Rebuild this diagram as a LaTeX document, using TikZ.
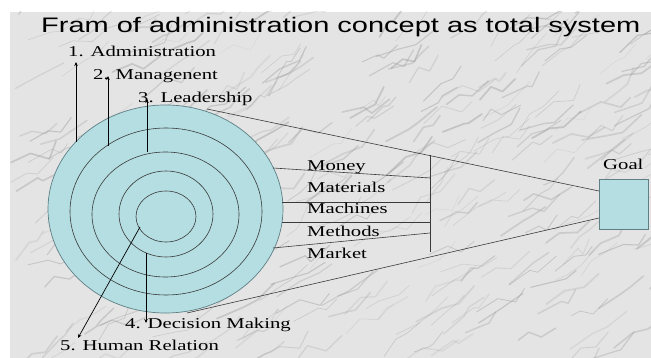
\documentclass[tikz,border=0pt]{standalone}
\usepackage{graphicx}
\usepackage{fontspec}
\setmainfont{Liberation Serif}
\newfontfamily\titlefont{Liberation Sans}
\usetikzlibrary{shapes.geometric,arrows.meta}
\definecolor{ringfill}{HTML}{B4DEE2}
\definecolor{ringedge}{HTML}{5E7F84}
\definecolor{marble}{HTML}{E4E4E4}
\definecolor{veincol}{HTML}{9A9A9A}
\definecolor{linkcol}{HTML}{3A3A3A}
% text on this slide is set wide
\newcommand{\widetext}[1]{\scalebox{1.38}[1]{#1}}
\tikzset{
  ring/.style={ellipse, draw=linkcol, line width=0.6pt, fill=ringfill, inner sep=0pt},
  outerring/.style={ellipse, draw=ringedge, line width=0.7pt, fill=ringfill, inner sep=0pt},
  link/.style={draw=linkcol, line width=0.6pt},
  pointer/.style={draw=black, line width=0.7pt, -{Stealth[length=4pt,width=3.5pt]}},
  lbl/.style={anchor=base west, inner sep=0pt, font=\fontsize{15}{17}\selectfont},
  goalbox/.style={draw=ringedge, line width=1pt, fill=ringfill},
  vein/.style={draw=veincol, line cap=round, line join=round},
}
\begin{document}
\begin{tikzpicture}[x=1pt,y=-1pt]
\useasboundingbox (0,0) rectangle (651,358);
\fill[white] (0,0) rectangle (651,358);
% marble slab
\fill[marble] (10,12) rectangle (651,358);
\begin{scope}
\clip (10,12) rectangle (651,358);
\pgfmathsetseed{42}
\foreach \i in {1,...,320}{
  \pgfmathsetmacro\xa{10+rnd*660}
  \pgfmathsetmacro\ya{12+rnd*360}
  \pgfmathsetmacro\dxa{8+rnd*18}
  \pgfmathsetmacro\dya{-4-rnd*14}
  \pgfmathsetmacro\dxb{4+rnd*16}
  \pgfmathsetmacro\dyb{-10+rnd*16}
  \pgfmathsetmacro\dxc{6+rnd*14}
  \pgfmathsetmacro\dyc{-8-rnd*10}
  \pgfmathsetmacro\lw{0.4+rnd*1.4}
  \pgfmathsetmacro\op{0.15+rnd*0.3}
  \draw[vein, line width=\lw pt, opacity=\op]
    (\xa,\ya) -- ++(\dxa,\dya) -- ++(\dxb,\dyb) -- ++(\dxc,\dyc);
}
\end{scope}

% title
\node[anchor=base west, inner sep=0pt, font=\titlefont\fontsize{21}{24}\selectfont]
  (title) at (41,33) {\widetext{Fram of administration concept as total system}};

% goal box and its label
\node[goalbox, minimum width=49pt, minimum height=50pt, inner sep=0pt, anchor=north west] (goal) at (599,179) {};
\node[lbl] (goallbl) at (603,170) {\widetext{Goal}};

% contact points for the outer connectors
\coordinate (topout) at (207,109);
\coordinate (botout) at (187,313);
\coordinate (goalin1) at (599,191);
\coordinate (goalin2) at (599,218);
\draw[link] (topout) -- (goalin1);
\draw[link] (botout) -- (goalin2);

% concentric rings
\node[outerring, minimum width=235pt, minimum height=208pt] (r1) at (165.5,209) {};
\node[ring, minimum width=192pt, minimum height=167pt] (r2) at (166,211.5) {};
\node[ring, minimum width=147pt, minimum height=125pt] (r3) at (165.5,214.5) {};
\node[ring, minimum width=94pt, minimum height=86pt] (r4) at (166,214) {};
\node[ring, minimum width=60pt, minimum height=51pt] (r5) at (166,216.5) {};

% resources bracket
\coordinate (bartop) at (430,155);
\coordinate (barbot) at (430,252);
\draw[link] (bartop) -- (barbot);
\coordinate (s1a) at (273,168);  \coordinate (s1b) at (430,178);
\coordinate (s2a) at (282,202);  \coordinate (s2b) at (430,202);
\coordinate (s3a) at (282,222);  \coordinate (s3b) at (430,222);
\coordinate (s4a) at (273,248);  \coordinate (s4b) at (430,233);
\draw[link] (s1a) -- (s1b);
\draw[link] (s2a) -- (s2b);
\draw[link] (s3a) -- (s3b);
\draw[link] (s4a) -- (s4b);

\node[lbl] (money) at (307,171) {\widetext{Money}};
\node[lbl] (materials) at (307,193) {\widetext{Materials}};
\node[lbl] (machines) at (307,214) {\widetext{Machines}};
\node[lbl] (methods) at (307,237) {\widetext{Methods}};
\node[lbl] (market) at (307,259) {\widetext{Market}};

% level labels
\node[lbl] (adm) at (68,57) {\widetext{1. Administration}};
\node[lbl] (mgt) at (93,80) {\widetext{2. Managenent}};
\node[lbl] (lead) at (138,103) {\widetext{3. Leadership}};
\node[lbl] (dec) at (125,328) {\widetext{4. Decision Making}};
\node[lbl] (hum) at (60,350) {\widetext{5. Human Relation}};

% pointers from the rings to their labels
\coordinate (p1a) at (76,142);  \coordinate (p1b) at (76,62);
\coordinate (p2a) at (108,146); \coordinate (p2b) at (108,76);
\coordinate (p3a) at (147,152); \coordinate (p3b) at (147,99);
\coordinate (p4a) at (146,253); \coordinate (p4b) at (146,323);
\coordinate (p5a) at (140,227); \coordinate (p5b) at (78,338);
\draw[pointer] (p1a) -- (p1b);
\draw[pointer] (p2a) -- (p2b);
\draw[pointer] (p3a) -- (p3b);
\draw[pointer] (p4a) -- (p4b);
\draw[pointer] (p5a) -- (p5b);
\end{tikzpicture}
\end{document}
